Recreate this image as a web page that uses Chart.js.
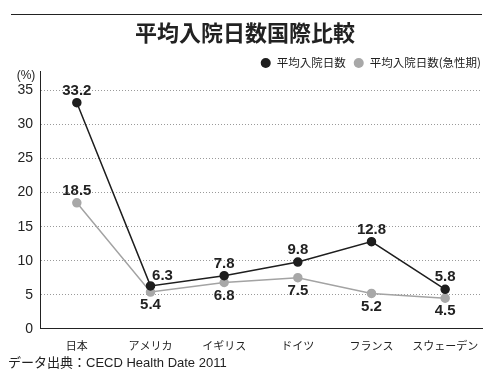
<!DOCTYPE html>
<html lang="ja">
<head>
<meta charset="UTF-8">
<title>平均入院日数国際比較</title>
<style>
  html,body{margin:0;padding:0;background:#fff;}
</style>
</head>
<body>
<canvas id="chart" width="496" height="376"></canvas>
<script src="https://cdn.jsdelivr.net/npm/chart.js"></script>
<script>
const countries = ['日本','アメリカ','イギリス','ドイツ','フランス','スウェーデン'];
const avgDays = [33.2, 6.3, 7.8, 9.8, 12.8, 5.8];
const acuteDays = [18.5, 5.4, 6.8, 7.5, 5.2, 4.5];
const yTicks = [0, 5, 10, 15, 20, 25, 30, 35];
const seriesNames = ['平均入院日数', '平均入院日数(急性期)'];
const sourceNote = 'データ出典：CECD Health Date 2011';

const fontFam = '"Liberation Sans", "Noto Sans CJK JP", sans-serif';
const jpFam = '"Noto Sans CJK JP", sans-serif';

// where the value labels go, per series / point
const labelPos = [
  ['up', 'upRight', 'up', 'up', 'up', 'up'],
  ['up', 'down', 'down', 'down', 'down', 'down']
];

const extras = {
  id: 'extras',
  afterDraw(chart) {
    const c = chart.ctx;
    c.save();
    // rule above the title
    c.strokeStyle = '#222'; c.lineWidth = 1;
    c.beginPath(); c.moveTo(11, 14.5); c.lineTo(482, 14.5); c.stroke();

    // unit
    c.fillStyle = '#222';
    c.font = '12px ' + fontFam;
    c.textAlign = 'center'; c.textBaseline = 'middle';
    c.fillText('(%)', 26, 76);

    // source note
    c.textAlign = 'left';
    c.font = '13px ' + fontFam;
    c.fillText(sourceNote, 8, 363);

    // legend, right aligned
    c.font = '11.5px ' + jpFam;
    let x = 481;
    for (let i = chart.data.datasets.length - 1; i >= 0; i--) {
      const ds = chart.data.datasets[i];
      x -= c.measureText(ds.label).width;
      c.fillStyle = '#222';
      c.fillText(ds.label, x, 63);
      x -= 11;
      c.fillStyle = ds.pointBackgroundColor;
      c.beginPath(); c.arc(x, 63, 5, 0, Math.PI * 2); c.fill();
      x -= 13;
    }

    // value labels
    c.font = 'bold 15px ' + fontFam;
    c.fillStyle = '#222';
    c.textAlign = 'center';
    chart.data.datasets.forEach((ds, d) => {
      chart.getDatasetMeta(d).data.forEach((pt, i) => {
        const pos = labelPos[d][i];
        let lx = pt.x, ly = pt.y - 12;
        if (pos === 'down') { ly = pt.y + 13; }
        if (pos === 'upRight') { lx = pt.x + 12; ly = pt.y - 10; }
        c.fillText(ds.data[i].toFixed(1), lx, ly);
      });
    });
    c.restore();
  }
};

new Chart(document.getElementById('chart'), {
  type: 'line',
  data: {
    labels: countries,
    datasets: [
      {
        label: seriesNames[0], data: avgDays,
        borderColor: '#1e1e1e', pointBackgroundColor: '#1e1e1e', pointBorderColor: '#1e1e1e',
        borderWidth: 1.5, pointRadius: 4, tension: 0
      },
      {
        label: seriesNames[1], data: acuteDays,
        borderColor: '#a3a3a3', pointBackgroundColor: '#a8a8a8', pointBorderColor: '#a8a8a8',
        borderWidth: 1.5, pointRadius: 4, tension: 0
      }
    ]
  },
  options: {
    responsive: false,
    animation: false,
    layout: { padding: { left: 8, right: 14, top: 0, bottom: 14 } },
    plugins: {
      legend: { display: false },
      tooltip: { enabled: false },
      title: {
        display: true, text: '平均入院日数国際比較', color: '#222',
        font: { family: jpFam, size: 22, weight: 'bold' },
        padding: { top: 19, bottom: 26 }
      }
    },
    scales: {
      x: {
        offset: true,
        grid: { display: false, drawTicks: false },
        border: { color: '#222', width: 1 },
        ticks: { color: '#222', font: { family: jpFam, size: 11 }, padding: 10 }
      },
      y: {
        min: 0, max: 37.8,
        afterBuildTicks: s => { s.ticks = yTicks.map(v => ({ value: v })); },
        afterFit: s => { s.width = 32; },
        grid: {
          color: ctx => (ctx.tick && ctx.tick.value === 0) ? 'rgba(0,0,0,0)' : '#9a9a9a',
          lineWidth: 1, drawTicks: false
        },
        border: { color: '#222', width: 1, dash: [1, 2] },
        ticks: { color: '#222', font: { family: fontFam, size: 14 }, padding: 7 }
      }
    }
  },
  plugins: [extras]
});
</script>
</body>
</html>
